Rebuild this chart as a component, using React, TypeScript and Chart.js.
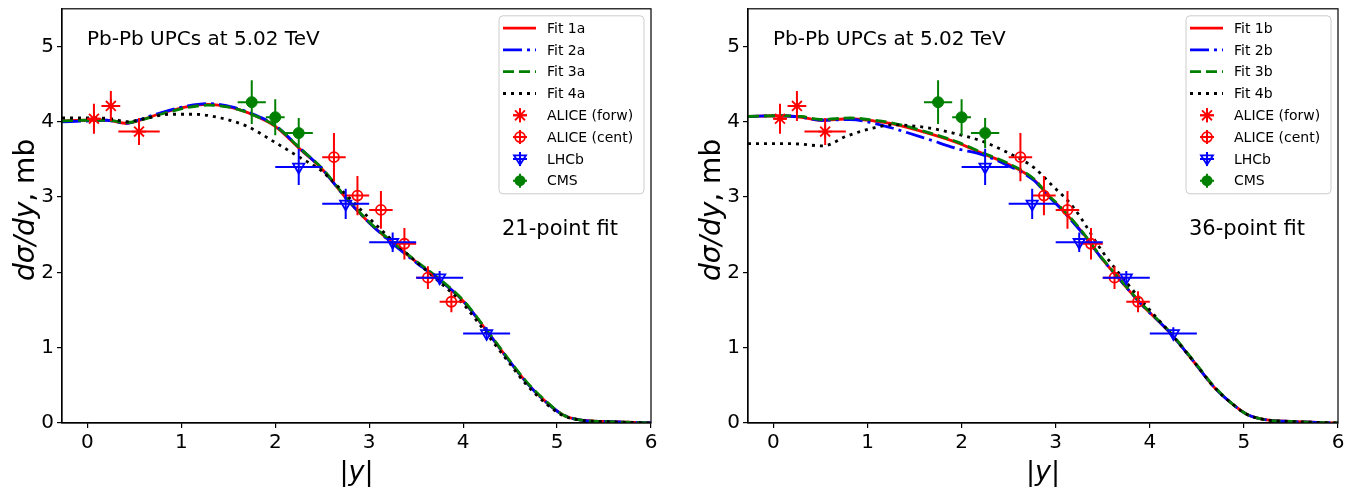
import React, { useEffect, useRef } from "react";
import { Chart, registerables } from "chart.js";

Chart.register(...registerables);

// ---------------- data ----------------
const xTickValues = [0, 1, 2, 3, 4, 5, 6];
const yTickValues = [0, 1, 2, 3, 4, 5];
const xMin = -0.27;
const xMax = 6;
const yMin = 0;
const yMax = 5.5;

const aliceForwX = [0.07, 0.25, 0.55];
const aliceForwY = [4.04, 4.21, 3.87];
const aliceForwXErr = [0.06, 0.1, 0.22];
const aliceForwYErr = [0.2, 0.2, 0.18];

const aliceCentX = [2.625, 2.875, 3.125, 3.375, 3.625, 3.875];
const aliceCentY = [3.53, 3.02, 2.83, 2.38, 1.93, 1.61];
const aliceCentXErr = [0.125, 0.125, 0.125, 0.125, 0.125, 0.125];
const aliceCentYErr = [0.32, 0.26, 0.25, 0.21, 0.15, 0.14];

const lhcbX = [2.25, 2.75, 3.25, 3.75, 4.25];
const lhcbY = [3.4, 2.91, 2.4, 1.93, 1.19];
const lhcbXErr = [0.25, 0.25, 0.25, 0.25, 0.25];
const lhcbYErr = [0.24, 0.2, 0.13, 0.09, 0.08];

const cmsX = [1.75, 2.0, 2.25];
const cmsY = [4.26, 4.06, 3.85];
const cmsXErr = [0.15, 0.1, 0.15];
const cmsYErr = [0.29, 0.24, 0.2];

// left panel fits (21-point fit)
const fitAX = [-0.27, 0, 0.2, 0.42, 0.56, 0.78, 1.07, 1.28, 1.56, 1.84, 2.0, 2.27, 2.5, 2.75, 3.0, 3.25, 3.5, 3.75, 4.0, 4.26, 4.47, 4.68, 4.89, 5.06, 5.24, 5.5, 5.75, 6.0];
const fit1aY = [4.01, 4.02, 4.02, 3.98, 4.02, 4.11, 4.2, 4.23, 4.18, 4.05, 3.94, 3.63, 3.37, 2.99, 2.66, 2.39, 2.14, 1.9, 1.62, 1.21, 0.86, 0.53, 0.27, 0.11, 0.04, 0.02, 0.01, 0.0];
const fit2aY = [4.0, 4.01, 4.02, 3.98, 4.03, 4.12, 4.21, 4.24, 4.19, 4.06, 3.95, 3.64, 3.37, 2.99, 2.66, 2.38, 2.13, 1.9, 1.62, 1.21, 0.86, 0.53, 0.27, 0.11, 0.04, 0.02, 0.01, 0.0];
const fit3aY = [4.01, 4.02, 4.02, 3.99, 4.02, 4.1, 4.19, 4.22, 4.18, 4.05, 3.95, 3.64, 3.38, 3.0, 2.67, 2.4, 2.15, 1.91, 1.63, 1.22, 0.87, 0.54, 0.28, 0.11, 0.04, 0.02, 0.01, 0.0];
const fit4aX = [-0.27, 0.07, 0.25, 0.42, 0.64, 0.88, 1.13, 1.42, 1.7, 1.98, 2.27, 2.48, 2.7, 3.0, 3.25, 3.5, 3.75, 4.0, 4.26, 4.47, 4.68, 4.89, 5.06, 5.24, 5.5, 6.0];
const fit4aY = [4.05, 4.05, 4.04, 4.0, 4.05, 4.1, 4.1, 4.05, 3.94, 3.74, 3.52, 3.36, 3.1, 2.72, 2.42, 2.14, 1.87, 1.58, 1.17, 0.83, 0.5, 0.25, 0.1, 0.04, 0.02, 0.0];

// right panel fits (36-point fit)
const fitBX = [-0.27, 0.07, 0.3, 0.5, 0.82, 1.07, 1.28, 1.64, 1.96, 2.2, 2.49, 2.77, 2.91, 3.05, 3.27, 3.48, 3.69, 3.9, 4.22, 4.47, 4.68, 4.89, 5.04, 5.25, 5.5, 6.0];
const fit1bY = [4.07, 4.08, 4.06, 4.02, 4.04, 4.01, 3.97, 3.85, 3.72, 3.59, 3.44, 3.23, 3.03, 2.86, 2.55, 2.2, 1.89, 1.59, 1.19, 0.81, 0.48, 0.24, 0.11, 0.04, 0.02, 0.0];
const fit2bY = [4.07, 4.08, 4.06, 4.02, 4.03, 3.98, 3.91, 3.77, 3.64, 3.57, 3.42, 3.22, 3.03, 2.85, 2.54, 2.2, 1.89, 1.59, 1.19, 0.81, 0.48, 0.24, 0.11, 0.04, 0.02, 0.0];
const fit3bY = [4.07, 4.08, 4.07, 4.03, 4.05, 4.02, 3.98, 3.86, 3.73, 3.6, 3.45, 3.24, 3.04, 2.87, 2.56, 2.21, 1.9, 1.6, 1.2, 0.82, 0.49, 0.24, 0.11, 0.04, 0.02, 0.0];
const fit4bX = [-0.27, 0.18, 0.53, 0.78, 1.07, 1.28, 1.64, 1.91, 2.2, 2.49, 2.77, 2.95, 3.19, 3.5, 3.75, 4.0, 4.22, 4.47, 4.68, 4.89, 5.04, 5.25, 5.5, 6.0];
const fit4bY = [3.71, 3.71, 3.68, 3.81, 3.92, 3.96, 3.92, 3.85, 3.75, 3.59, 3.39, 3.17, 2.86, 2.27, 1.87, 1.5, 1.19, 0.81, 0.48, 0.24, 0.11, 0.04, 0.02, 0.0];

const leftFitLabels = ["Fit 1a", "Fit 2a", "Fit 3a", "Fit 4a"];
const rightFitLabels = ["Fit 1b", "Fit 2b", "Fit 3b", "Fit 4b"];
const dataLabels = ["ALICE (forw)", "ALICE (cent)", "LHCb", "CMS"];

// ---------------- styles ----------------
const FONT = "'DejaVu Sans', 'Liberation Sans', sans-serif";
const RED = "#ff0000";
const BLUE = "#0000ff";
const GREEN = "#008000";
const BLACK = "#000000";
const LW = 2.8;
const fitStyles = [
  { color: RED, dash: [] as number[] },
  { color: BLUE, dash: [19, 5, 3, 5] },
  { color: GREEN, dash: [11, 5] },
  { color: BLACK, dash: [3, 5] },
];
const markerKinds = ["star", "circleCross", "triDown", "dot"];
const markerColors = [RED, RED, BLUE, GREEN];

const zip = (xs: number[], ys: number[]) => xs.map((x, i) => ({ x, y: ys[i] }));

const errMap: Record<string, { xs: number[]; ys: number[]; xe: number[]; ye: number[]; color: string }> = {
  "ALICE (forw)": { xs: aliceForwX, ys: aliceForwY, xe: aliceForwXErr, ye: aliceForwYErr, color: RED },
  "ALICE (cent)": { xs: aliceCentX, ys: aliceCentY, xe: aliceCentXErr, ye: aliceCentYErr, color: RED },
  LHCb: { xs: lhcbX, ys: lhcbY, xe: lhcbXErr, ye: lhcbYErr, color: BLUE },
  CMS: { xs: cmsX, ys: cmsY, xe: cmsXErr, ye: cmsYErr, color: GREEN },
};

function drawMarker(ctx: CanvasRenderingContext2D, kind: string, color: string, x: number, y: number) {
  ctx.save();
  ctx.strokeStyle = color;
  ctx.fillStyle = color;
  ctx.lineWidth = 1.8;
  ctx.setLineDash([]);
  ctx.beginPath();
  if (kind === "star") {
    const r = 7;
    ctx.moveTo(x - r, y); ctx.lineTo(x + r, y);
    ctx.moveTo(x, y - r); ctx.lineTo(x, y + r);
    const d = r * Math.SQRT1_2;
    ctx.moveTo(x - d, y - d); ctx.lineTo(x + d, y + d);
    ctx.moveTo(x - d, y + d); ctx.lineTo(x + d, y - d);
    ctx.stroke();
  } else if (kind === "circleCross") {
    ctx.arc(x, y, 5, 0, Math.PI * 2);
    ctx.stroke();
  } else if (kind === "triDown") {
    const r = 6;
    ctx.moveTo(x - r, y - r * 0.6);
    ctx.lineTo(x + r, y - r * 0.6);
    ctx.lineTo(x, y + r);
    ctx.closePath();
    ctx.stroke();
  } else {
    ctx.arc(x, y, 5.5, 0, Math.PI * 2);
    ctx.fill();
  }
  ctx.restore();
}

const errorBarPlugin = {
  id: "errorBars",
  beforeDatasetDraw(chart: any, args: any) {
    const ds = chart.data.datasets[args.index];
    const e = errMap[ds.label];
    if (!e) return;
    const { ctx, chartArea, scales } = chart;
    ctx.save();
    ctx.beginPath();
    ctx.rect(chartArea.left, chartArea.top, chartArea.right - chartArea.left, chartArea.bottom - chartArea.top);
    ctx.clip();
    ctx.strokeStyle = e.color;
    ctx.lineWidth = 2;
    ctx.setLineDash([]);
    ctx.beginPath();
    e.xs.forEach((xv, i) => {
      const yv = e.ys[i];
      const px = scales.x.getPixelForValue(xv);
      const py = scales.y.getPixelForValue(yv);
      ctx.moveTo(scales.x.getPixelForValue(xv - e.xe[i]), py);
      ctx.lineTo(scales.x.getPixelForValue(xv + e.xe[i]), py);
      ctx.moveTo(px, scales.y.getPixelForValue(yv - e.ye[i]));
      ctx.lineTo(px, scales.y.getPixelForValue(yv + e.ye[i]));
    });
    ctx.stroke();
    ctx.restore();
  },
};

const framePlugin = {
  id: "frame",
  afterDatasetsDraw(chart: any) {
    const { ctx, chartArea } = chart;
    ctx.save();
    ctx.strokeStyle = BLACK;
    ctx.lineWidth = 1.2;
    ctx.setLineDash([]);
    ctx.strokeRect(chartArea.left, chartArea.top, chartArea.right - chartArea.left, chartArea.bottom - chartArea.top);
    ctx.restore();
  },
};

function makeDecorPlugin(fitLabels: string[], note: string) {
  return {
    id: "decor",
    afterDraw(chart: any) {
      const { ctx, chartArea } = chart;
      ctx.save();
      // annotations
      ctx.fillStyle = BLACK;
      ctx.font = `20px ${FONT}`;
      ctx.textAlign = "left";
      ctx.textBaseline = "alphabetic";
      ctx.fillText("Pb-Pb UPCs at 5.02 TeV", chartArea.left + 25, 45);
      ctx.font = `21px ${FONT}`;
      ctx.textAlign = "center";
      ctx.fillText(note, chartArea.right - 91, 235);

      // axis titles
      const cx = (chartArea.left + chartArea.right) / 2;
      const parts = [
        { t: "|", f: `27px ${FONT}` },
        { t: "y", f: `italic 27px ${FONT}` },
        { t: "|", f: `27px ${FONT}` },
      ];
      let total = 0;
      parts.forEach((p) => { ctx.font = p.f; total += ctx.measureText(p.t).width; });
      let xx = cx - total / 2;
      ctx.textAlign = "left";
      parts.forEach((p) => { ctx.font = p.f; ctx.fillText(p.t, xx, 480); xx += ctx.measureText(p.t).width; });

      const yParts = [
        { t: "dσ/dy", f: `italic 28px ${FONT}` },
        { t: ", mb", f: `28px ${FONT}` },
      ];
      ctx.save();
      ctx.translate(chartArea.left - 35, (chartArea.top + chartArea.bottom) / 2 - 6);
      ctx.rotate(-Math.PI / 2);
      total = 0;
      yParts.forEach((p) => { ctx.font = p.f; total += ctx.measureText(p.t).width; });
      xx = -total / 2;
      ctx.textBaseline = "middle";
      yParts.forEach((p) => { ctx.font = p.f; ctx.fillText(p.t, xx, 0); xx += ctx.measureText(p.t).width; });
      ctx.restore();

      // legend
      const bw = 145, bh = 178;
      const bx = chartArea.right - 7 - bw;
      const by = chartArea.top + 7;
      ctx.beginPath();
      const r = 4;
      ctx.moveTo(bx + r, by);
      ctx.arcTo(bx + bw, by, bx + bw, by + bh, r);
      ctx.arcTo(bx + bw, by + bh, bx, by + bh, r);
      ctx.arcTo(bx, by + bh, bx, by, r);
      ctx.arcTo(bx, by, bx + bw, by, r);
      ctx.closePath();
      ctx.fillStyle = "rgba(255,255,255,0.8)";
      ctx.fill();
      ctx.strokeStyle = "#cccccc";
      ctx.lineWidth = 1;
      ctx.stroke();

      const labels = [...fitLabels, ...dataLabels];
      labels.forEach((lab, i) => {
        const ry = by + 12.3 + i * 21.8;
        if (i < 4) {
          const st = fitStyles[i];
          ctx.save();
          ctx.strokeStyle = st.color;
          ctx.lineWidth = LW;
          ctx.setLineDash(st.dash);
          ctx.beginPath();
          ctx.moveTo(bx + 4, ry);
          ctx.lineTo(bx + 37, ry);
          ctx.stroke();
          ctx.restore();
        } else {
          const k = i - 4;
          const mx = bx + 21;
          ctx.save();
          ctx.strokeStyle = markerColors[k];
          ctx.lineWidth = 2;
          ctx.setLineDash([]);
          ctx.beginPath();
          ctx.moveTo(mx - 7, ry); ctx.lineTo(mx + 7, ry);
          ctx.moveTo(mx, ry - 7); ctx.lineTo(mx, ry + 7);
          ctx.stroke();
          ctx.restore();
          drawMarker(ctx, markerKinds[k], markerColors[k], mx, ry);
        }
        ctx.fillStyle = BLACK;
        ctx.font = `14px ${FONT}`;
        ctx.textAlign = "left";
        ctx.textBaseline = "middle";
        ctx.fillText(lab, bx + 48, ry + 1);
      });
      ctx.restore();
    },
  };
}

type FitDef = { xs: number[]; ys: number[] };

function buildConfig(fitLabels: string[], fits: FitDef[], note: string, axisLeft: number, padRight: number): any {
  const fitSets = fits.map((f, i) => ({
    label: fitLabels[i],
    data: zip(f.xs, f.ys),
    borderColor: fitStyles[i].color,
    backgroundColor: fitStyles[i].color,
    borderDash: fitStyles[i].dash,
    borderWidth: LW,
    borderCapStyle: "butt",
    pointRadius: 0,
    showLine: true,
    fill: false,
    cubicInterpolationMode: "monotone",
    order: 10 - i,
  }));
  const pointSets = [
    { label: dataLabels[0], data: zip(aliceForwX, aliceForwY), pointStyle: "star", pointRadius: 7, borderColor: RED, backgroundColor: RED, pointBorderWidth: 1.8 },
    { label: dataLabels[1], data: zip(aliceCentX, aliceCentY), pointStyle: "circle", pointRadius: 5, borderColor: RED, backgroundColor: "rgba(0,0,0,0)", pointBorderWidth: 1.8 },
    { label: dataLabels[2], data: zip(lhcbX, lhcbY), pointStyle: "triangle", pointRotation: 180, pointRadius: 6.5, borderColor: BLUE, backgroundColor: "rgba(0,0,0,0)", pointBorderWidth: 1.8 },
    { label: dataLabels[3], data: zip(cmsX, cmsY), pointStyle: "circle", pointRadius: 5.5, borderColor: GREEN, backgroundColor: GREEN, pointBorderWidth: 1 },
  ].map((d, i) => ({ ...d, showLine: false, order: 4 - i }));

  const tickFont = { family: FONT, size: 20 };
  return {
    type: "line",
    data: { datasets: [...fitSets, ...pointSets] },
    options: {
      animation: false,
      responsive: false,
      devicePixelRatio: 1,
      parsing: true,
      layout: { padding: { left: 0, right: padRight, top: 8, bottom: 0 } },
      plugins: { legend: { display: false }, tooltip: { enabled: false } },
      scales: {
        x: {
          type: "linear",
          min: xMin,
          max: xMax,
          afterBuildTicks: (s: any) => { s.ticks = xTickValues.map((v) => ({ value: v })); },
          afterFit: (s: any) => { s.height = 66; s.paddingLeft = 0; s.paddingRight = 0; },
          ticks: { font: tickFont, color: BLACK, padding: 3, maxRotation: 0, autoSkip: false },
          grid: { drawOnChartArea: false, drawTicks: true, tickLength: 5, color: BLACK, lineWidth: 1.2 },
          border: { display: true, color: BLACK, width: 1.2 },
        },
        y: {
          type: "linear",
          min: yMin,
          max: yMax,
          afterBuildTicks: (s: any) => { s.ticks = yTickValues.map((v) => ({ value: v })); },
          afterFit: (s: any) => { s.width = axisLeft; s.paddingTop = 0; s.paddingBottom = 0; },
          ticks: { font: tickFont, color: BLACK, padding: 3 },
          grid: { drawOnChartArea: false, drawTicks: true, tickLength: 5, color: BLACK, lineWidth: 1.2 },
          border: { display: true, color: BLACK, width: 1.2 },
        },
      },
    },
    plugins: [errorBarPlugin, framePlugin, makeDecorPlugin(fitLabels, note)],
  };
}

function Panel(props: { left: number; width: number; fitLabels: string[]; fits: FitDef[]; note: string; axisLeft: number; padRight: number }) {
  const ref = useRef<HTMLCanvasElement>(null);
  useEffect(() => {
    const chart = new Chart(ref.current as HTMLCanvasElement, buildConfig(props.fitLabels, props.fits, props.note, props.axisLeft, props.padRight));
    return () => chart.destroy();
  }, []);
  return (
    <canvas
      ref={ref}
      width={props.width}
      height={489}
      style={{ position: "absolute", left: props.left, top: 0, width: props.width, height: 489 }}
    />
  );
}

export default function App() {
  return (
    <div style={{ position: "fixed", left: 0, top: 0, width: 1370, height: 489, background: "#ffffff" }}>
      <Panel
        left={0}
        width={680}
        fitLabels={leftFitLabels}
        fits={[
          { xs: fitAX, ys: fit1aY },
          { xs: fitAX, ys: fit2aY },
          { xs: fitAX, ys: fit3aY },
          { xs: fit4aX, ys: fit4aY },
        ]}
        note="21-point fit"
        axisLeft={62}
        padRight={29}
      />
      <Panel
        left={680}
        width={690}
        fitLabels={rightFitLabels}
        fits={[
          { xs: fitBX, ys: fit1bY },
          { xs: fitBX, ys: fit2bY },
          { xs: fitBX, ys: fit3bY },
          { xs: fit4bX, ys: fit4bY },
        ]}
        note="36-point fit"
        axisLeft={68}
        padRight={32}
      />
    </div>
  );
}
